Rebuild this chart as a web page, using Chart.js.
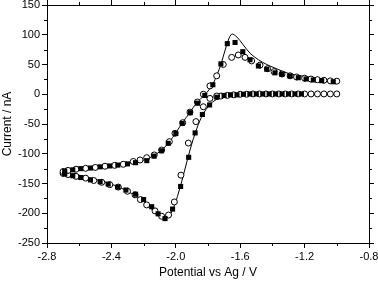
<!DOCTYPE html>
<html>
<head>
<meta charset="utf-8">
<script src="https://cdn.jsdelivr.net/npm/chart.js@4/dist/chart.umd.min.js"></script>
<style>
  html, body { margin: 0; padding: 0; background: #fff; }
  #wrap { width: 378px; height: 282px; }
</style>
</head>
<body>
<div id="wrap"><canvas id="cv"></canvas></div>
<script>
// Simulated voltammogram (solid line): cathodic sweep then return sweep
const simV = [-1.00, -1.20, -1.40, -1.55, -1.65, -1.70, -1.75, -1.79, -1.83, -1.87, -1.91, -1.95, -1.99, -2.03, -2.065, -2.10, -2.15, -2.20, -2.30, -2.40, -2.50, -2.60, -2.70,
              -2.60, -2.50, -2.40, -2.30, -2.20, -2.13, -2.08, -2.04, -2.00, -1.96, -1.91, -1.87, -1.82, -1.77, -1.72, -1.685, -1.653, -1.62, -1.584, -1.539, -1.487, -1.435, -1.384, -1.30, -1.20, -1.10, -1.00];
const simI = [0, 0, 0, -0.5, -2, -4, -9, -18, -33, -58, -92, -133, -172, -200, -210, -206, -193, -180, -163, -151, -143, -136, -131,
              -126, -123, -120, -116, -111, -102, -92, -80, -65, -48, -30, -14, -1, 17, 50, 82, 101, 96, 84, 69, 58, 50, 44, 35, 30, 26, 23];

// Filled squares
const sqV = [-1.22, -1.26, -1.30, -1.34, -1.38, -1.42, -1.46, -1.50, -1.54, -1.58, -1.62, -1.66, -1.70, -1.745, -1.79, -1.835, -1.88, -1.92, -1.97, -2.02,
             -2.067, -2.11, -2.15, -2.20, -2.25, -2.31, -2.36, -2.42, -2.47, -2.53, -2.59, -2.64, -2.69,
             -2.69, -2.64, -2.59, -2.53, -2.47, -2.41, -2.36, -2.30, -2.25, -2.18, -2.135, -2.088, -2.047, -2.00, -1.96, -1.91, -1.865, -1.82, -1.77, -1.72,
             -1.68, -1.632, -1.584, -1.539, -1.487, -1.435, -1.384, -1.342, -1.291, -1.239, -1.191, -1.146, -1.094, -1.022];
const sqI = [0.5, 0.5, 0.5, 0.5, 0.5, 0.5, 0.5, 0.5, 0.5, 0, -1, -1, -2, -5, -18, -34, -65, -106, -155, -193,
             -209, -201, -189, -177, -168, -161, -156, -151, -147, -144, -140, -137, -134,
             -129, -127, -125, -124, -122, -120.5, -119, -117, -115, -111.6, -104, -95, -82.5, -66, -49, -31, -15, -2, 16, 51,
             85, 87, 71.5, 58, 47.5, 42, 36, 33.5, 30.7, 27.8, 25.6, 24, 22.8, 21];

// Open circles
const ciV = [-1.00, -1.04, -1.08, -1.12, -1.16, -1.20, -1.24, -1.28, -1.32, -1.36, -1.40, -1.44, -1.48, -1.52, -1.56, -1.60, -1.64, -1.68, -1.72,
             -1.746, -1.788, -1.829, -1.875, -1.922, -1.968, -2.009, -2.045, -2.088, -2.129, -2.181, -2.22, -2.253, -2.30, -2.357, -2.41, -2.46, -2.51, -2.56, -2.62, -2.67, -2.70,
             -2.70, -2.67, -2.62, -2.56, -2.50, -2.44, -2.38, -2.326, -2.264, -2.222, -2.181, -2.134, -2.088, -2.04, -2.005, -1.957, -1.912, -1.866, -1.829, -1.788, -1.746, -1.705,
             -1.653, -1.612, -1.57, -1.529, -1.477, -1.43, -1.39, -1.34, -1.29, -1.25, -1.20, -1.16, -1.12, -1.08, -1.04, -1.00];
const ciI = [0.5, 0.5, 0.5, 0.5, 0.5, 0.5, 0.5, 0.5, 0.5, 0.5, 0.5, 0.5, 0.5, 0.5, 0, 0, -1, -2, -3,
             -3, -7, -21, -46, -82, -136, -181, -203, -205, -196, -186, -177, -169, -163, -156, -152, -148, -145, -141, -138, -135, -133,
             -130, -128, -126, -124.5, -123, -121, -119.5, -117.7, -113, -110.5, -106.6, -102, -93.7, -79.7, -65.6, -47.8, -30, -13, 0, 14, 31, 50,
             62, 66, 62, 56, 49, 43, 38, 34, 31, 29, 27, 25.5, 24.5, 23.5, 22.5, 22];

// Axis ticks
const xMin = -2.8, xMax = -0.8, xStep = 0.4;
const yMin = -250, yMax = 150, yStep = 50;
const xMinor = [-2.6, -2.2, -1.8, -1.4, -1.0];
const yMinor = [125, 75, 25, -25, -75, -125, -175, -225];

const pts = (vs, is) => vs.map((v, i) => ({ x: v, y: is[i] }));

const font = { family: '"Liberation Sans", Arial, sans-serif', size: 11 };
const black = '#000';

// short ticks between the labelled ones, on all four sides
const minorTicks = {
    id: 'minorTicks',
    afterDraw(chart) {
        const { ctx, chartArea: a, scales: { x, y } } = chart;
        ctx.save();
        ctx.strokeStyle = black;
        ctx.lineWidth = 1;
        ctx.beginPath();
        xMinor.forEach(v => {
            const px = Math.round(x.getPixelForValue(v)) + 0.5;
            ctx.moveTo(px, a.bottom); ctx.lineTo(px, a.bottom + 3);
            ctx.moveTo(px, a.top); ctx.lineTo(px, a.top - 3);
        });
        yMinor.forEach(v => {
            const py = Math.round(y.getPixelForValue(v)) + 0.5;
            ctx.moveTo(a.left, py); ctx.lineTo(a.left - 3, py);
            ctx.moveTo(a.right, py); ctx.lineTo(a.right + 3, py);
        });
        ctx.stroke();
        ctx.restore();
    }
};

const edge = { display: true, color: black, width: 1 };
const majorGrid = { drawOnChartArea: false, drawTicks: true, tickLength: 5, color: black, tickColor: black };

new Chart(document.getElementById('cv'), {
    type: 'scatter',
    data: {
        datasets: [
            {
                label: 'squares',
                data: pts(sqV, sqI),
                pointStyle: 'rect',
                pointRadius: 3.6,
                pointBackgroundColor: black,
                pointBorderColor: black,
                pointBorderWidth: 0,
                showLine: false
            },
            {
                label: 'circles',
                data: pts(ciV, ciI),
                pointStyle: 'circle',
                pointRadius: 3,
                pointBackgroundColor: '#fff',
                pointBorderColor: black,
                pointBorderWidth: 1,
                showLine: false
            },
            {
                label: 'simulation',
                data: pts(simV, simI),
                showLine: true,
                borderColor: black,
                borderWidth: 1,
                tension: 0.35,
                pointRadius: 0,
                fill: false
            }
        ]
    },
    options: {
        responsive: true,
        maintainAspectRatio: false,
        animation: false,
        layout: { padding: 0 },
        plugins: { legend: { display: false }, tooltip: { enabled: false } },
        scales: {
            x: {
                type: 'linear', position: 'bottom', min: xMin, max: xMax,
                border: edge, grid: majorGrid,
                ticks: { stepSize: xStep, color: black, font, padding: 2, maxRotation: 0, callback: v => v.toFixed(1) },
                title: { display: true, text: 'Potential vs Ag / V', color: black, font: { family: font.family, size: 12 }, padding: 2 },
                afterFit(s) { s.height = 39; s.paddingLeft = 0; s.paddingRight = 0; }
            },
            x2: {
                type: 'linear', axis: 'x', position: 'top', min: xMin, max: xMax,
                border: edge, grid: majorGrid,
                ticks: { stepSize: xStep, callback: () => '' },
                afterFit(s) { s.height = 5; s.paddingLeft = 0; s.paddingRight = 0; }
            },
            y: {
                type: 'linear', position: 'left', min: yMin, max: yMax,
                border: edge, grid: majorGrid,
                ticks: { stepSize: yStep, color: black, font, padding: 2 },
                title: { display: true, text: 'Current / nA', color: black, font: { family: font.family, size: 12 }, padding: 0 },
                afterFit(s) { s.width = 47; s.paddingTop = 0; s.paddingBottom = 0; }
            },
            y2: {
                type: 'linear', axis: 'y', position: 'right', min: yMin, max: yMax,
                border: edge, grid: majorGrid,
                ticks: { stepSize: yStep, callback: () => '' },
                afterFit(s) { s.width = 9; s.paddingTop = 0; s.paddingBottom = 0; }
            }
        }
    },
    plugins: [minorTicks]
});
</script>
</body>
</html>
